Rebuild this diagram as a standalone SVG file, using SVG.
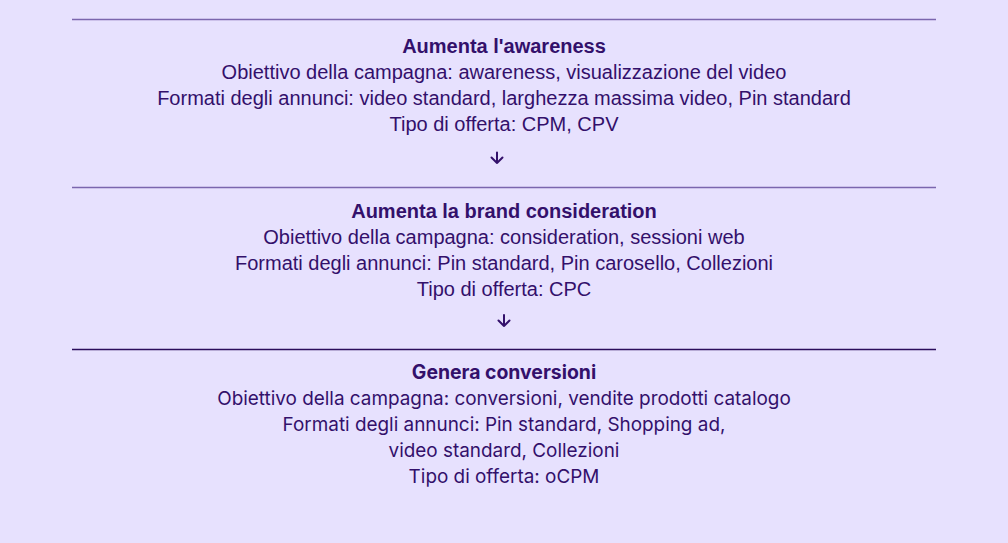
<svg xmlns="http://www.w3.org/2000/svg" width="1008" height="543" viewBox="0 0 1008 543">
<style>
.t{font-family:"Liberation Sans",Arial,sans-serif;font-size:20px;fill:#33106B;text-anchor:middle}
.b{font-weight:bold}
.g{font-family:Inter,"Noto Sans",sans-serif;font-size:18.9px;fill:#33106B;text-anchor:middle}
.gb{font-weight:bold;font-size:19.4px}
.sep{stroke:#7B66AE;stroke-width:1.5}
.sep2{stroke:#2B0D5C;stroke-width:1.5}
.arr{fill:none;stroke:#33106B;stroke-width:2;stroke-linecap:round;stroke-linejoin:round}
</style>
<rect width="1008" height="543" fill="#E7E1FE"/>
<g id="node1">
<line class="sep" x1="72" y1="19.5" x2="936" y2="19.5"/>
<text class="t b" x="504" y="53">Aumenta l'awareness</text>
<text class="t" x="504" y="79">Obiettivo della campagna: awareness, visualizzazione del video</text>
<text class="t" x="504" y="105">Formati degli annunci: video standard, larghezza massima video, Pin standard</text>
<text class="t" x="504" y="131">Tipo di offerta: CPM, CPV</text>
</g>
<g id="connectors">
<path class="arr" d="M497 152.5V163M491.5 157.5L497 163L502.5 157.5"/>
<path class="arr" d="M504 315V326M498.5 320.5L504 326L509.5 320.5"/>
</g>
<g id="node2">
<line class="sep" x1="72" y1="187.5" x2="936" y2="187.5"/>
<text class="t b" x="504" y="218">Aumenta la brand consideration</text>
<text class="t" x="504" y="244">Obiettivo della campagna: consideration, sessioni web</text>
<text class="t" x="504" y="270">Formati degli annunci: Pin standard, Pin carosello, Collezioni</text>
<text class="t" x="504" y="296">Tipo di offerta: CPC</text>
</g>
<g id="node3">
<line class="sep2" x1="72" y1="349.5" x2="936" y2="349.5"/>
<text class="g gb" x="504" y="379">Genera conversioni</text>
<text class="g" x="504" y="405">Obiettivo della campagna: conversioni, vendite prodotti catalogo</text>
<text class="g" x="504" y="431">Formati degli annunci: Pin standard, Shopping ad,</text>
<text class="g" x="504" y="457">video standard, Collezioni</text>
<text class="g" x="504" y="483">Tipo di offerta: oCPM</text>
</g>
</svg>
